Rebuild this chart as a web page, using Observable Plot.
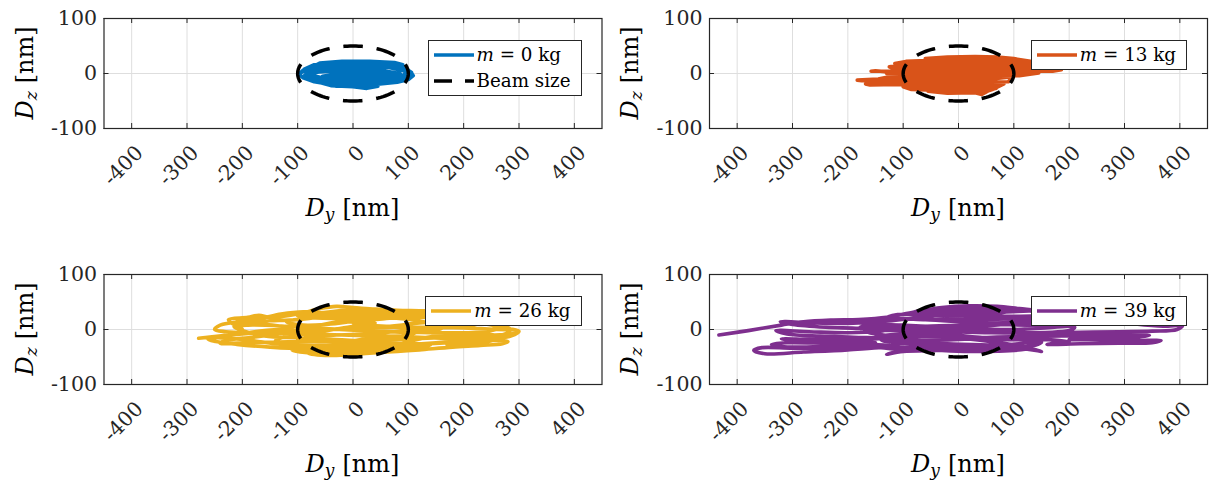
<!DOCTYPE html>
<html>
<head>
<meta charset="utf-8">
<script src="https://cdn.jsdelivr.net/npm/d3@7"></script>
<script src="https://cdn.jsdelivr.net/npm/@observablehq/plot@0.6"></script>
<style>
  body { margin: 0; background: #fff; }
  #wrap { position: relative; width: 1212px; height: 486px; overflow: hidden; }
  .panel { position: absolute; width: 606px; height: 230px; }
  .panel svg { position: absolute; left: 0; top: 0; }
  .legend { position: absolute; background: #fff; border: 1px solid #262626; padding: 1px 10px 1px 5px;
            font-family: "DejaVu Serif", "Liberation Serif", serif; font-size: 18.3px; color: #000; white-space: nowrap; }
  .legend .row { display: flex; align-items: center; height: 26px; }
  .legend .row svg { position: static; margin-right: 3px; }
</style>
</head>
<body>
<div id="wrap"></div>
<script>
// ---- data ----
const xTicks = [-400, -300, -200, -100, 0, 100, 200, 300, 400];
const yTicks = [-100, 0, 100];
const masses = [0, 13, 26, 39];
const colors = ["#0072BD", "#D95319", "#EDB120", "#7E2F8E"];
const beamY = 100; // beam half size along y [nm]
const beamZ = 50;  // beam half size along z [nm]

// trajectories [Dy, Dz] in nm
const traj_m0 = [
  [-97,-3],[-88,8],[-70,16],[-40,20],[0,21],[40,21],[70,19],[92,12],[104,3],[109,-4],[100,-11],[80,-16],[40,-20],[0,-21],[-40,-20],[-70,-15],[-90,-8],[-98,-1],
  [-90,6],[-60,14],[-10,17],[50,17],[85,11],[100,2],[98,-6],[75,-12],[30,-16],[-20,-17],[-65,-12],[-88,-4],
  [-80,4],[-45,10],[10,12],[65,11],[95,4],[92,-3],[60,-8],[10,-11],[-45,-10],[-82,-2],
  [-60,3],[-10,6],[50,6],[85,0],[60,-4],[0,-5],[-55,-5],[-25,0],[30,1],[75,-2],
  [40,-13],[-10,-14],[-55,-16],[-80,-11],
  [-40,-22],[0,-24],[25,-27],[45,-23],[30,-19],[0,-19],
  [-30,-23],[-50,-18],[20,-15],[70,-13],[98,-6],[106,2],[95,9],[70,15],[20,14],[-40,15],[-75,11],[-93,2],
  [-60,19],[-20,22],[30,22],[75,20],[90,16]
];
const traj_m13 = [
  [-60,27],[-20,30],[30,31],[70,30],[100,27],
  [130,22],[90,24],[40,26],[-20,26],[-70,23],[-95,22],
  [-115,18],[-80,20],[-20,21],[50,22],[110,21],[150,17],
  [178,12],[140,14],[80,16],[0,16],[-60,15],[-105,15],[-125,12],
  [-118,9],[-60,10],[20,11],[100,10],[150,9],[186,7],
  [170,4],[120,5],[40,5],[-40,5],[-100,5],[-128,4],[-158,4],[-150,5],[-120,2],
  [-130,0],[-80,-1],[0,0],[80,1],[130,2],[145,1],
  [110,-4],[40,-5],[-40,-6],[-100,-6],[-125,-6],
  [-145,-10],[-183,-12],[-175,-13],[-140,-11],[-80,-11],[0,-10],[60,-10],[98,-6],
  [90,-15],[30,-16],[-40,-16],[-100,-15],[-125,-15],
  [-168,-19],[-160,-21],[-110,-20],[-40,-21],[30,-21],[82,-19],
  [70,-25],[0,-26],[-60,-26],[-100,-24],
  [-85,-29],[-30,-31],[30,-30],[68,-27],
  [50,-33],[0,-34],[-55,-32],
  [-20,-36],[30,-35],[42,-38],[48,-35],[55,-31]
];
const traj_m26 = [
  [-279,-16],[-200,-8],[-100,-3],[0,2],[100,4],[200,3],[260,0],[296,-2],[290,-7],[250,-10],[180,-14],[100,-17],[0,-20],[-100,-22],[-200,-24],[-240,-25],
  [-230,-20],[-180,-14],[-120,-5],[-60,8],[0,18],[80,24],[160,22],[230,12],[280,2],[300,-3],[285,-12],[220,-20],[140,-26],[60,-30],[-20,-34],[-90,-35],[-150,-32],[-210,-27],[-248,-22],[-262,-18],
  [-230,-12],[-200,0],[-220,12],[-225,18],[-190,22],[-170,26],[-150,22],[-100,28],[-60,38],[-30,42],[0,40],[40,37],[80,35],[120,34],[150,33],[200,26],[240,18],[270,8],[285,0],[275,-8],[230,-17],[150,-24],[70,-30],[0,-36],[-50,-40],[-80,-44],[-50,-47],[-10,-46],[30,-43],[80,-40],[120,-37],[180,-32],[230,-29],[270,-26],[280,-22],[240,-19],[160,-16],[60,-12],[-20,-10],[-100,-8],[-170,-6],[-230,-4],
  [-250,0],[-240,8],[-200,14],[-150,16],[-100,18],[-40,25],[20,28],[80,26],[150,20],[210,14],[250,8],[262,2],[240,-4],[180,-6],[100,-5],[20,-2],[-60,2],[-120,6],[-190,8],[-215,5],
  [-160,-12],[-100,-15],[-40,-18],[20,-22],[60,-26],[20,-28],[-40,-28],[-100,-28],[-140,-20],[-110,-10],[-60,-4],[0,6],[40,12],[0,14],[-40,10],[-90,8],[-120,14],[-80,22],[-30,32],[20,33],[60,30],[110,28],[150,28],[120,24],[60,20],[0,12],[60,6],[120,12],[190,16],[225,10],[200,6],[150,8],
  [100,-10],[40,-14],[-20,-25],[-60,-36],[-110,-38],[-70,-43],[0,-40],[60,-36],[100,-32],
  [140,-28],[60,-24],[-30,-22],[-100,-18],[-60,-12],[20,-8],[100,-2],[160,2],[120,16],[40,22],[-40,20],[-100,24],[-60,30],[0,36],[60,34],[100,30],[40,26],[-20,28],[-90,32],[-130,28],[-170,20],[-210,18],[-160,10],[-110,2],[-160,-2],[-220,-10],[-250,-14],[-200,-18],[-140,-26],[-80,-32],[-20,-40],[40,-38],[100,-22],[160,-10],[230,-8],[270,-14],[230,-24],[170,-28]
];
const traj_m39 = [
  [-433,-10],[-380,-2],[-320,8],[-280,14],[-230,17],[-180,18],[-130,22],[-80,32],[-30,40],[20,43],[70,42],[110,38],[150,34],[200,28],[260,18],[320,10],[370,6],[405,7],[395,0],[350,-3],[290,-4],[220,-5],[150,-6],
  [100,-6],[0,-4],[-100,-8],[-150,-12],[-40,-8],[80,-18],[160,-17],[60,-16],[-60,-20],[-140,-18],[-130,-22],[-20,-26],[80,-28],[150,-23],[140,-28],[40,-34],[-60,-28],[-120,-27],[-110,-32],[10,-32],[130,-32],[120,-36],[20,-40],[-90,-37],[-130,-45],[-100,-40],[-40,-38],[20,-36],[100,-34],[140,-38],[150,-40],[120,-32],
  [60,-22],[-20,-14],[-120,-12],[-170,-3],[-60,-2],[60,-6],[200,-2],[210,4],[100,0],[-20,2],[-120,4],[-180,2],[-170,7],[-60,6],[60,9],[200,9],[190,14],[100,10],[0,5],[-100,8],[-160,12],[-150,18],[-60,18],[40,12],[140,15],[200,22],[120,20],[20,18],[-80,20],[-130,21],[-110,27],[-40,26],[60,24],[160,27],[140,33],[80,32],[0,34],[-80,30],[-40,37],[30,39],[100,36],[60,28],[0,30],[-60,24],
  [-120,16],[-200,11],[-260,12],[-322,14],[-300,9],[-240,4],[-180,2],[-130,-2],[-200,-6],[-270,-4],[-330,-2],[-310,-8],[-250,-12],[-190,-14],[-130,-16],[-200,-19],[-270,-18],[-320,-17],[-290,-21],[-220,-22],[-150,-24],
  [-250,-31],[-320,-31],[-338,-27],[-310,-24],[-240,-25],[-160,-27],[-120,-30],[-200,-37],[-280,-41],[-350,-44],[-370,-38],[-355,-33],[-300,-34],[-220,-33],[-140,-33],[-110,-36],
  [-40,-20],[60,-14],[160,-12],[240,-11],[300,-10],[345,-11],[320,-14],[260,-16],[200,-18],[260,-19],[320,-20],[366,-20],[350,-24],[290,-25],[220,-26],[160,-27],[200,-22],[150,-18]
];
const trajectories = [traj_m0, traj_m13, traj_m26, traj_m39];

// beam-size ellipse outline built from its half sizes
const beam = d3.range(0, 361, 3).map(a => [beamY * Math.cos(a * Math.PI / 180), beamZ * Math.sin(a * Math.PI / 180)]);

// ---- layout ----
const FONT = "'DejaVu Serif', 'Liberation Serif', serif";
const wrap = document.getElementById("wrap");
const panelPos = [[0, 0], [606, 0], [0, 256], [606, 256]];

masses.forEach((m, i) => {
  const left = panelPos[i][0] === 0;
  const W = 606, H = 230;
  const mL = left ? 103.5 : 103, mR = left ? 4.5 : 5, mT = 18, mB = 102;
  const pw = W - mL - mR, ph = H - mT - mB;
  const chart = Plot.plot({
    width: W, height: H,
    marginLeft: mL, marginRight: mR, marginTop: mT, marginBottom: mB,
    style: { fontFamily: FONT, background: "transparent", overflow: "visible" },
    x: { domain: [-450, 450], axis: null },
    y: { domain: [-100, 100], axis: null },
    marks: [
      Plot.ruleX(xTicks, { x: d => d, stroke: "#dedede", strokeWidth: 1 }),
      Plot.ruleY(yTicks, { y: d => d, stroke: "#dedede", strokeWidth: 1 }),
      Plot.line(trajectories[i], { x: d => d[0], y: d => d[1], stroke: colors[i], strokeWidth: 3.6, curve: i >= 2 ? "catmull-rom" : "linear", clip: true }),
      Plot.line(beam, { x: d => d[0], y: d => d[1], stroke: "#000", strokeWidth: 3.5, strokeDasharray: "19.5,13.9", strokeDashoffset: 9.75, strokeLinecap: "butt" }),
      Plot.frame({ stroke: "#262626", strokeWidth: 1.2 }),
      Plot.tickX(xTicks, { x: d => d, insetTop: ph - 5, stroke: "#262626" }),
      Plot.tickX(xTicks, { x: d => d, insetBottom: ph - 5, stroke: "#262626" }),
      Plot.tickY(yTicks, { y: d => d, insetRight: pw - 5, stroke: "#262626" }),
      Plot.tickY(yTicks, { y: d => d, insetLeft: pw - 5, stroke: "#262626" }),
      Plot.text(xTicks, { x: d => d, frameAnchor: "bottom", text: d => String(d), rotate: -45, textAnchor: "end", lineAnchor: "middle", dx: 8, dy: 21, fontSize: 20.5, fill: "#262626", fontFamily: FONT }),
      Plot.text(yTicks, { y: d => d, frameAnchor: "left", text: d => String(d), textAnchor: "end", lineAnchor: "middle", dx: -7, fontSize: 20.5, fill: "#262626", fontFamily: FONT })
    ]
  });
  const div = document.createElement("div");
  div.className = "panel";
  div.style.left = panelPos[i][0] + "px";
  div.style.top = panelPos[i][1] + "px";
  div.appendChild(chart);
  wrap.appendChild(div);

  const svg = d3.select(chart);
  // x label: D_y [nm]
  const xl = svg.append("text").attr("x", mL + pw / 2).attr("y", mT + ph + 88)
    .attr("text-anchor", "middle").attr("font-size", 24).attr("font-family", FONT).attr("fill", "#000");
  xl.append("tspan").attr("font-style", "italic").text("D");
  xl.append("tspan").attr("font-style", "italic").attr("font-size", 17).attr("dy", 4).text("y");
  xl.append("tspan").attr("dy", -4).attr("dx", 8).text("[nm]");
  // y label: D_z [nm]
  const yl = svg.append("text").attr("transform", `translate(${mL - 71},${mT + ph / 2}) rotate(-90)`)
    .attr("text-anchor", "middle").attr("font-size", 24).attr("font-family", FONT).attr("fill", "#000");
  yl.append("tspan").attr("font-style", "italic").text("D");
  yl.append("tspan").attr("font-style", "italic").attr("font-size", 17).attr("dy", 4).text("z");
  yl.append("tspan").attr("dy", -4).attr("dx", 8).text("[nm]");

  // legend (northeast)
  const lg = document.createElement("div");
  lg.className = "legend";
  lg.style.right = (left ? 24.5 : 25) + "px";
  lg.style.top = (mT + 21.5) + "px";
  let html = `<div class="row"><svg width="40" height="8"><line x1="0" x2="40" y1="4" y2="4" stroke="${colors[i]}" stroke-width="3.6"/></svg><span><i>m</i>&nbsp;=&nbsp;${m} kg</span></div>`;
  if (i === 0) {
    html += `<div class="row"><svg width="40" height="8"><line x1="0" x2="40" y1="4" y2="4" stroke="#000" stroke-width="3.5" stroke-dasharray="18,13"/></svg><span>Beam size</span></div>`;
  }
  lg.innerHTML = html;
  div.appendChild(lg);
});
</script>
</body>
</html>
